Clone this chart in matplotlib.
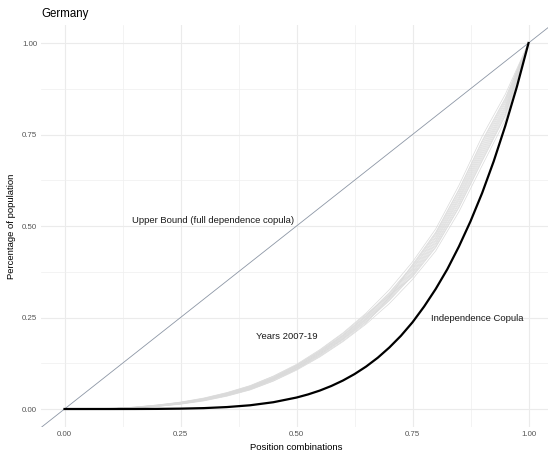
import matplotlib
matplotlib.use("Agg")
import matplotlib.pyplot as plt

plt.rcParams['font.family'] = ['Liberation Sans', 'DejaVu Sans']

# Independence copula C(u,...,u) for the five positions
indep_u = [0.0, 0.05, 0.1, 0.15, 0.2, 0.25, 0.3, 0.35, 0.4, 0.45, 0.5, 0.525,
           0.55, 0.575, 0.6, 0.625, 0.65, 0.675, 0.7, 0.725, 0.75, 0.775, 0.8,
           0.825, 0.85, 0.875, 0.9, 0.925, 0.95, 0.975, 1.0]
indep_c = [0.0, 0.0, 0.00001, 0.00008, 0.0003, 0.001, 0.0024, 0.0053, 0.0102,
           0.0185, 0.0313, 0.0399, 0.0503, 0.0629, 0.0778, 0.0954, 0.116, 0.140,
           0.168, 0.200, 0.237, 0.280, 0.328, 0.382, 0.444, 0.513, 0.590, 0.677,
           0.774, 0.881, 1.0]

# Empirical copula diagonal per year, 2007-2019
years = list(range(2007, 2020))
emp_u = [0.0, 0.1, 0.15, 0.2, 0.25, 0.3, 0.35, 0.4, 0.45, 0.5, 0.55, 0.6,
         0.65, 0.7, 0.75, 0.8, 0.85, 0.9, 0.95, 1.0]
emp_c = [
    [0, .001, .003, .007, .013, .022, .035, .052, .076, .106, .142, .184, .232, .288, .354, .432, .539, .665, .790, 1],
    [0, .001, .003, .007, .014, .023, .036, .053, .077, .108, .144, .186, .235, .305, .395, .483, .600, .733, .850, 1],
    [0, .001, .003, .008, .014, .024, .037, .054, .079, .109, .146, .189, .238, .296, .364, .444, .553, .681, .804, 1],
    [0, .001, .004, .008, .015, .024, .038, .055, .080, .110, .148, .191, .240, .298, .367, .449, .559, .687, .809, 1],
    [0, .001, .004, .008, .015, .025, .039, .056, .081, .112, .149, .192, .243, .301, .371, .453, .564, .693, .815, 1],
    [0, .001, .004, .009, .016, .025, .039, .057, .082, .113, .151, .194, .245, .304, .374, .458, .570, .699, .820, 1],
    [0, .001, .004, .009, .016, .026, .040, .058, .083, .114, .152, .196, .247, .307, .378, .462, .575, .705, .825, 1],
    [0, .001, .004, .009, .016, .027, .041, .059, .084, .115, .154, .198, .249, .310, .382, .467, .580, .711, .830, 1],
    [0, .001, .004, .010, .017, .027, .042, .060, .085, .116, .155, .200, .252, .313, .385, .471, .586, .717, .836, 1],
    [0, .001, .004, .010, .017, .028, .042, .061, .086, .118, .157, .201, .254, .316, .389, .476, .591, .723, .841, 1],
    [0, .001, .005, .010, .018, .028, .043, .062, .087, .119, .158, .203, .256, .318, .392, .480, .597, .729, .846, 1],
    [0, .001, .005, .011, .018, .029, .044, .063, .089, .120, .160, .206, .259, .310, .361, .441, .550, .677, .801, 1],
    [0, .002, .005, .011, .019, .030, .045, .064, .090, .122, .162, .208, .262, .326, .402, .492, .611, .745, .860, 1],
]

ticks = [0.0, 0.25, 0.5, 0.75, 1.0]
minor_ticks = [0.125, 0.375, 0.625, 0.875]

fig = plt.figure(figsize=(5.48, 4.61), dpi=100)
ax = fig.add_axes([0.0754, 0.0731, 0.9314, 0.8733])
ax.set_xlim(-0.05, 1.05)
ax.set_ylim(-0.05, 1.05)

# minimal theme: no spines, light grid, no tick marks
for s in ax.spines.values():
    s.set_visible(False)
ax.set_xticks(ticks)
ax.set_yticks(ticks)
ax.set_xticks(minor_ticks, minor=True)
ax.set_yticks(minor_ticks, minor=True)
ax.set_xticklabels([f"{t:.2f}" for t in ticks])
ax.set_yticklabels([f"{t:.2f}" for t in ticks])
ax.grid(which='major', color='#EBEBEB', linewidth=0.8)
ax.grid(which='minor', color='#EFEFEF', linewidth=0.5)
ax.tick_params(which='both', length=0)
ax.tick_params(axis='both', labelsize=5.7, labelcolor='#555555', pad=3)
ax.set_axisbelow(True)

# upper bound: full dependence copula
ax.axline((0, 0), (1, 1), color='#8C96A5', linewidth=0.6, zorder=2)

for yr, c in zip(years, emp_c):
    ax.plot(emp_u, c, color='#DADADA', linewidth=0.5, zorder=3)

ax.plot(indep_u, indep_c, color='black', linewidth=1.6, zorder=4,
        solid_joinstyle='round')

ax.text(0.321, 0.516, "Upper Bound (full dependence copula)", fontsize=6.8,
        ha='center', va='center', color='#1A1A1A')
ax.text(0.48, 0.198, "Years 2007-19", fontsize=6.8, ha='center', va='center', color='#1A1A1A')
ax.text(0.889, 0.248, "Independence Copula", fontsize=6.8, ha='center', va='center', color='#1A1A1A')

ax.set_xlabel("Position combinations", fontsize=6.8, labelpad=3)
ax.set_ylabel("Percentage of population", fontsize=6.8, labelpad=4)

fig.text(41 / 548, 1 - 14 / 461, "Germany", fontsize=8.3, ha='left', va='center')

fig.savefig("out.png", dpi=100)
